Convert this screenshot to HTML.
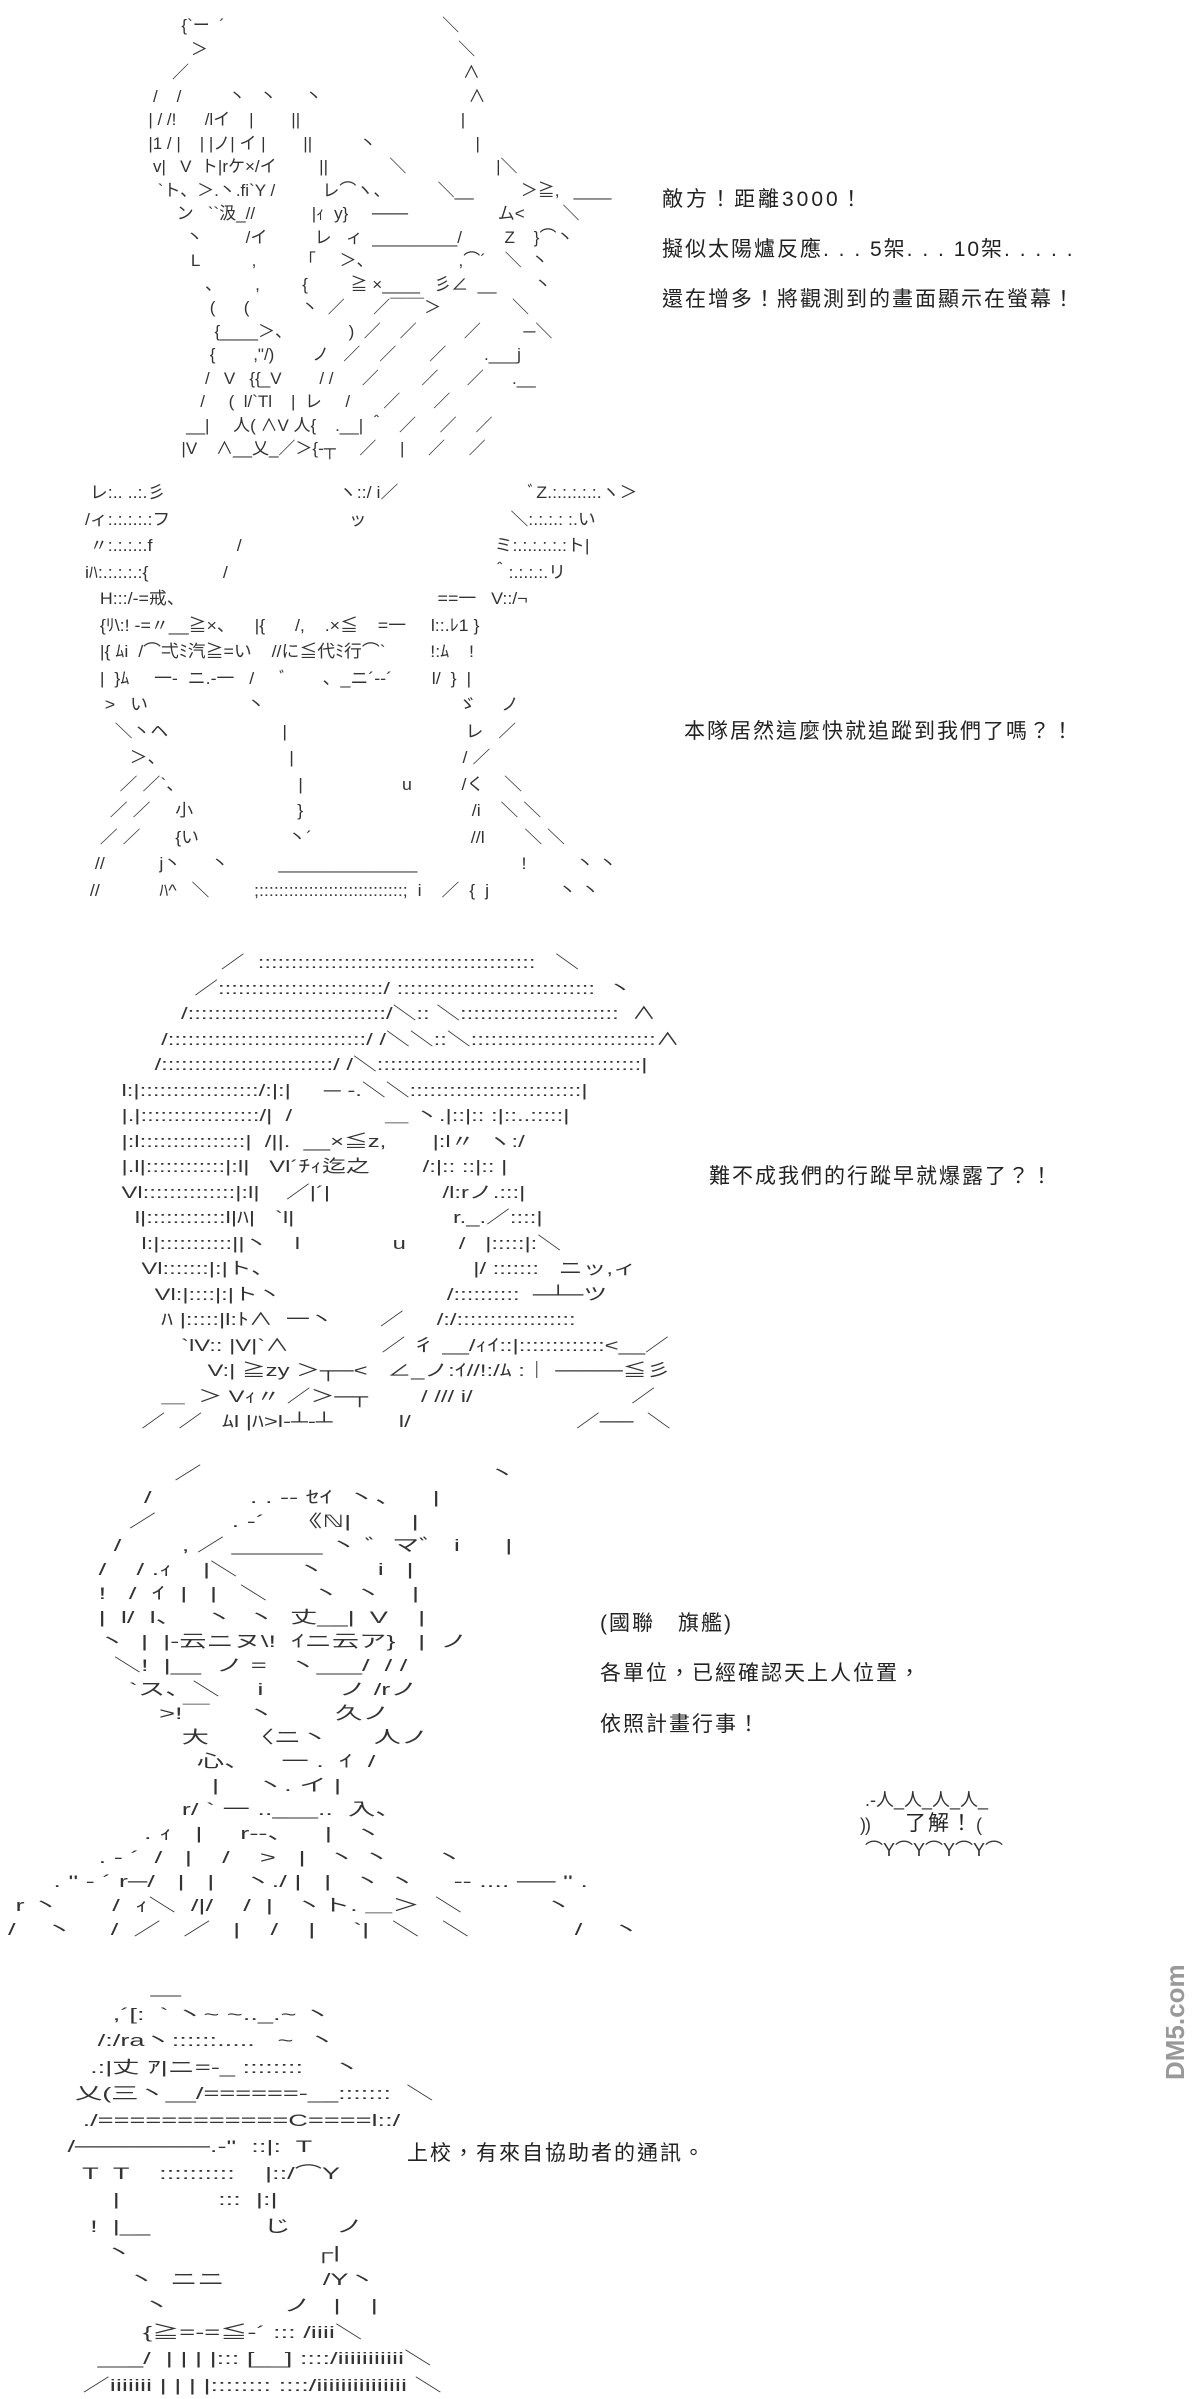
<!DOCTYPE html>
<html><head><meta charset="utf-8">
<style>
html,body{margin:0;padding:0;background:#fff;}
body{width:1200px;height:2372px;position:relative;overflow:hidden;}
pre{position:absolute;margin:0;font-family:"Liberation Sans","Noto Sans CJK JP",sans-serif;font-size:17px;line-height:26.5px;color:#333;white-space:pre;transform-origin:left top;}
.t{position:absolute;font-family:"Liberation Sans","Noto Sans CJK TC",sans-serif;font-size:21px;letter-spacing:2px;color:#222;white-space:nowrap;line-height:24px;}
.wm{position:absolute;left:1160px;top:1985px;font-family:"Liberation Sans",sans-serif;font-size:26px;font-weight:bold;color:#999;transform:rotate(-90deg);transform-origin:left top;white-space:nowrap;}
</style></head><body>

<pre style="left:120px;top:14px;line-height:23.5px;">             {`ー  ´                                              ＼
               ＞                                                     ＼
           ／                                                          ∧
       /    /          丶   丶      丶                               ∧
      | / /!      /lイ    |        ||                                  |
      |1 / |    | |ノ| イ |        ||          丶                     |
       v|   V  ト|rケ×/イ         ||             ＼                   |＼
        `ト、＞.丶.fi`Y /          レ⌒ヽ、          ＼__          ＞≧,   ____
            ン   ``汲_//            |ｨ  y}     ───                   ム<        ＼
              丶         /イ          レ   ィ  _________/         Z    }⌒丶
               L           ,         「     ＞、                  ,⌒´    ＼  丶
                  、       ,         {         ≧ ×____   彡∠  __        丶
                   (      (           丶  ／      ／￣￣＞               ＼
                    {____＞、            )  ／    ／          ／         ─＼
                   {        ,"/)        ノ   ／    ／       ／        .___j
                  /   V   {{_V        / /      ／         ／      ／      .__
                 /     (  l/`Tl    |  レ     /       ／       ／
              __|     人( ∧V 人{    .__| ＾   ／     ／    ／
             |V    ∧__乂_／＞{-┬     ／     |     ／     ／</pre>

<div class="t" style="left:662px;top:188px;letter-spacing:3px;">敵方！距離3000！</div>
<div class="t" style="left:662px;top:238px;">擬似太陽爐反應.&nbsp;.&nbsp;.&nbsp;5架.&nbsp;.&nbsp;.&nbsp;10架.&nbsp;.&nbsp;.&nbsp;.&nbsp;.</div>
<div class="t" style="left:662px;top:288px;">還在增多！將觀測到的畫面顯示在螢幕！</div>

<pre style="left:80px;top:480px;transform:scaleX(1.05);">  レ:.. ..:.彡                                   ヽ::/ i／                          ﾞZ.:.:.:.:.:.ヽ＞
 /ィ:.:.:.:.:フ                                    ッ                             ＼:.:.:.: :.い
  〃:.:.:.:.f                 /                                                   ミ:.:.:.:.:.:ト|
 iﾊ:.:.:.:.:{               /                                                     ＾:.:.:.:.リ
    H:::/-=戒、                                                   ==一   V::/¬
    {ﾘ\:! -=〃__≧×、    |{      /,    .×≦    =一     l::.ﾚ1 }
    |{ ﾑi  /⌒弌ﾐ汽≧=い    //に≦代ﾐ行⌒`         !:ﾑ    !
    |  }ﾑ     一-  ニ.-一   /     ﾞ       、_ニ´--´        l/  }  |
     >   い                    丶                                       ゞ     ノ
       ＼丶ヘ                       |                                    レ   ／
          ＞、                         |                                  / ／
        ／ ／`、                       |                    u          /く    ＼
      ／ ／     小                     }                                  /i    ＼ ＼
    ／ ／       {い                  丶´                                //l        ＼ ＼
   //           j丶      丶          ______________                     !          丶 丶
  //            ﾊ^   ＼         ;:::::::::::::::::::::::::::::;  i    ／  {  j              丶 丶</pre>

<div class="t" style="left:684px;top:720px;">本隊居然這麼快就追蹤到我們了嗎？！</div>

<pre style="left:62px;top:950px;line-height:25.5px;transform:scaleX(1.4);">                        ／  ::::::::::::::::::::::::::::::::::::::::::   ＼
                    ／:::::::::::::::::::::::::/ ::::::::::::::::::::::::::::::  丶
                  /::::::::::::::::::::::::::::::/＼:: ＼::::::::::::::::::::::::  ∧
               /::::::::::::::::::::::::::::::/ /＼＼::＼::::::::::::::::::::::::::::∧
              /::::::::::::::::::::::::::/ /＼::::::::::::::::::::::::::::::::::::::::|
         l:|::::::::::::::::::/:|:|     ─ -.＼＼::::::::::::::::::::::::::|
         |.|::::::::::::::::::/|  /              ＿ 丶.|::|:: :|::..:::::|
         |:l::::::::::::::::|  /||.  __×≦z,       |:l〃  ヽ:/
         |.l|::::::::::::|:l|   Vl´ﾁｨ迄之        /:|:: ::|:: |
         Vl::::::::::::::|:l|    ／|´|                 /l:rノ.:::|
           l|::::::::::::l|ﾊ|   `l|                        r._.／::::|
            l:|:::::::::::||丶    l              u        /   |:::::|:＼
            Vl:::::::|:|ト、                              |/ :::::::   ニッ,ィ
              Vl:|::::|:|ト丶                         /::::::::::  ─┴─ツ
               ﾊ |:::::|l:ﾄ∧  一丶       ／     /:/::::::::::::::::::
                  `lV:: |V|`∧              ／ 彳 __/ｨｲ::|:::::::::::::<__／
                      V:| ≧zy ＞┬─<   ∠_ノ:ｲ//!:/ﾑ :｜ ────≦彡
               ＿  ＞ Vｨ〃 ／＞─┬        / /// i/                        ／
            ／  ／   ﾑl |ﾊ>l-┴-┴          l/                         ／──  ＼</pre>

<div class="t" style="left:709px;top:1165px;">難不成我們的行蹤早就爆露了？！</div>

<pre style="left:8px;top:1462px;line-height:24px;transform:scaleX(1.6);">                      ／                                      丶
                  /             . . -- ｾｲ  丶、    |
                ／          . -´    《ℕ|        |
              /        , ／ ______ 丶 ゛マ゛ i      |
            /    / .ｨ    |＼        丶       i   |
            !   /  ｲ  |   |   ＼      丶  丶    |
            |  l/  l、   丶  丶  丈__|  V    |
            丶  |  |-云ニヌ\!  ｲニ云ア}   |  ノ
              ＼!  |__  ノ =   丶___/  / /
                `ス、＼     i          ノ /rノ
                    >!￣     丶        久ノ
                       大     〈ニ丶      人ノ
                         心、    一 .  ｲ  /
                           |     丶. イ |
                       r/ ` 一 ..___..  入、
                  . ｨ   |     r--、    |   丶
            . - ´  /   |    /    >   |   丶 丶      丶
      . " - ´ r─/   |   |    丶./ |   |   丶 丶     -- .... ── " .
 r 丶       /  ｨ＼  /|/    /  |   丶ト. ＿＞  ＼           丶
/    丶     /  ／   ／   |    /    |     `|   ＼   ＼              /    丶</pre>

<div class="t" style="left:600px;top:1612px;">(國聯　旗艦)</div>
<div class="t" style="left:600px;top:1662px;">各單位，已經確認天上人位置，</div>
<div class="t" style="left:600px;top:1713px;">依照計畫行事！</div>

<pre style="left:860px;top:1788px;font-size:18px;line-height:25px;"> .-人_人_人_人_
 )  </pre>
<div class="t" style="left:905px;top:1812px;">了解！</div>
<pre style="left:860px;top:1813px;font-size:18px;line-height:25px;">)                      (
 ⌒Y⌒Y⌒Y⌒Y⌒</pre>

<pre style="left:7px;top:1975px;transform:scaleX(1.6);">                   __
              ,´[:  ` 丶~ ~.._.~ 丶
            /:/ra丶::::::.....   ~  丶
           .:|丈 ｱ|ニ=-_ ::::::::    丶
         乂(三丶__/======-__:::::::  ＼
          ./============C====l::/
        /───────.-"  ::|:  T
          T  T    ::::::::::    |::/⌒Y
              |             :::  |:|
           !  |__               じ      ノ
             丶                        ┌|
                丶  ニニ             /Y丶
                  丶               ノ   |    |
                  {≧=-=≦-´ ::: /iiii＼
            ___/  | | | |::: [__] ::::/iiiiiiiiiii＼
          ／iiiiiii | | | |:::::::: ::::/iiiiiiiiiiiiiii ＼</pre>

<div class="t" style="left:407px;top:2142px;">上校，有來自協助者的通訊。</div>

<div class="wm" style="top:2080px;">DM5.com</div>
</body></html>
